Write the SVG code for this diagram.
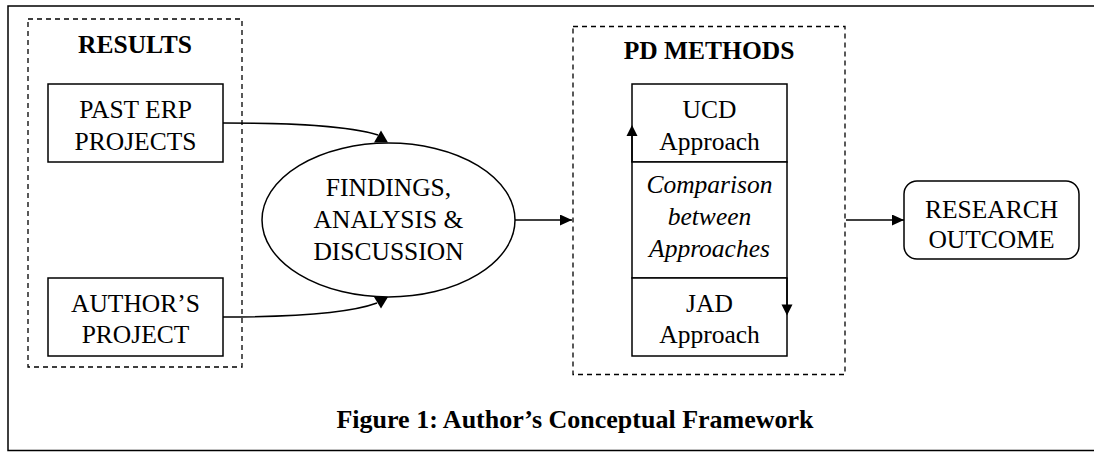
<svg xmlns="http://www.w3.org/2000/svg" width="1094" height="453" viewBox="0 0 1094 453">
<style>
.t{font-family:"Liberation Serif","Times New Roman",serif;font-size:25.5px;fill:#000;text-anchor:middle}
.b{font-weight:bold}
.i{font-style:italic}
.box{fill:#fff;stroke:#000;stroke-width:1.5}
.dash{fill:none;stroke:#000;stroke-width:1.3;stroke-dasharray:5,4}
.ln{fill:none;stroke:#000;stroke-width:1.5}
.ah{fill:#000;stroke:none}
</style>
<defs>
<marker id="arr" markerUnits="userSpaceOnUse" markerWidth="13" markerHeight="11" refX="12" refY="5.5" orient="auto">
<path d="M0,0 L12,5.5 L0,11 z" fill="#000"/>
</marker>
</defs>
<rect x="0" y="0" width="1094" height="453" fill="#fff"/>
<path d="M1094,6 H8 V450.5 H1094" fill="none" stroke="#000" stroke-width="1.5"/>

<g id="results">
<rect class="dash" x="28" y="19" width="214" height="348"/>
<text class="t b" x="135" y="53">RESULTS</text>
</g>
<g id="past-erp">
<rect class="box" x="48" y="84" width="175" height="78"/>
<text class="t" x="135.5" y="118">PAST ERP</text>
<text class="t" x="135.5" y="150">PROJECTS</text>
</g>
<g id="authors-project">
<rect class="box" x="48" y="278" width="175" height="78"/>
<text class="t" x="135.5" y="312">AUTHOR’S</text>
<text class="t" x="135.5" y="343">PROJECT</text>
</g>
<g id="findings">
<ellipse class="box" cx="388.5" cy="220" rx="126.5" ry="77"/>
<text class="t" x="388.5" y="196">FINDINGS,</text>
<text class="t" x="388.5" y="228">ANALYSIS &amp;</text>
<text class="t" x="388.5" y="260">DISCUSSION</text>
</g>
<g id="pd-methods">
<rect class="dash" x="573" y="26.5" width="272" height="348"/>
<text class="t b" x="709" y="59">PD METHODS</text>
</g>
<g id="ucd">
<rect class="box" x="632" y="84" width="155" height="78"/>
<text class="t" x="709.5" y="118">UCD</text>
<text class="t" x="709.5" y="150">Approach</text>
</g>
<g id="comparison">
<rect class="box" x="632" y="162" width="155" height="116"/>
<text class="t i" x="709.5" y="193">Comparison</text>
<text class="t i" x="709.5" y="225">between</text>
<text class="t i" x="709.5" y="257">Approaches</text>
</g>
<g id="jad">
<rect class="box" x="632" y="278" width="155" height="78"/>
<text class="t" x="709.5" y="312">JAD</text>
<text class="t" x="709.5" y="343">Approach</text>
</g>
<g id="research-outcome">
<rect class="box" x="904" y="181" width="175" height="78" rx="13" ry="13"/>
<text class="t" x="991.5" y="218">RESEARCH</text>
<text class="t" x="991.5" y="248">OUTCOME</text>
</g>
<g id="caption">
<text class="t b" x="575" y="428" style="font-size:26px">Figure 1: Author’s Conceptual Framework</text>
</g>

<g id="connectors">
<path class="ln" d="M223,123 C300,123 350,126 378,135"/>
<polygon class="ah" points="381,130.5 374,142.5 388,142.5"/>
<path class="ln" d="M223,317 C300,317 350,313 377,303"/>
<polygon class="ah" points="381,308.5 374,297 388,297"/>
<path class="ln" d="M515,220 H572" marker-end="url(#arr)"/>
<path class="ln" d="M846,220 H904" marker-end="url(#arr)"/>
<path class="ln" d="M632,162 V130"/>
<polygon class="ah" points="632,125 626.5,136 637.5,136"/>
<path class="ln" d="M787,278 V310"/>
<polygon class="ah" points="787,315.5 781.5,304.5 792.5,304.5"/>
</g>
</svg>
